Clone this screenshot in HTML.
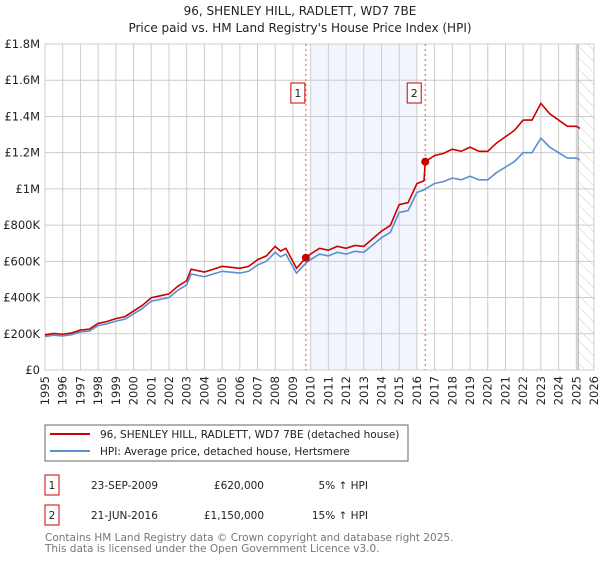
<!DOCTYPE html>
<html><head><meta charset="utf-8"><style>
body{margin:0;background:#fff;font-family:"DejaVu Sans","Liberation Sans",sans-serif;}
svg text{font-family:"DejaVu Sans","Liberation Sans",sans-serif;}
</style></head><body>
<svg width="600" height="560" viewBox="0 0 600 560" xmlns="http://www.w3.org/2000/svg">
<defs><pattern id="hatch" width="8" height="8" patternUnits="userSpaceOnUse" patternTransform="rotate(-45)"><line x1="0" y1="0" x2="0" y2="8" stroke="#ccc" stroke-width="1"/></pattern></defs>
<text x="300" y="15" text-anchor="middle" font-size="12" fill="#222">96, SHENLEY HILL, RADLETT, WD7 7BE</text>
<text x="300" y="32" text-anchor="middle" font-size="12" fill="#222">Price paid vs. HM Land Registry's House Price Index (HPI)</text>
<g id="plot"></g>
<g>
<rect x="45" y="425" width="363" height="36" fill="#fff" stroke="#666"/>
<line x1="50" y1="434" x2="90" y2="434" stroke="#cc0000" stroke-width="2"/>
<text x="100" y="438" font-size="10.5" fill="#222">96, SHENLEY HILL, RADLETT, WD7 7BE (detached house)</text>
<line x1="50" y1="451" x2="90" y2="451" stroke="#5b8fd4" stroke-width="2"/>
<text x="100" y="455" font-size="10.5" fill="#222">HPI: Average price, detached house, Hertsmere</text>
</g>
<g font-size="10.5" fill="#222">
<rect x="45" y="475" width="14" height="20" fill="#fff" stroke="#cc0000"/>
<text x="52" y="489" text-anchor="middle">1</text>
<text x="91" y="489">23-SEP-2009</text>
<text x="264" y="489" text-anchor="end">£620,000</text>
<text x="368" y="489" text-anchor="end">5% ↑ HPI</text>
<rect x="45" y="505" width="14" height="20" fill="#fff" stroke="#cc0000"/>
<text x="52" y="519" text-anchor="middle">2</text>
<text x="91" y="519">21-JUN-2016</text>
<text x="264" y="519" text-anchor="end">£1,150,000</text>
<text x="368" y="519" text-anchor="end">15% ↑ HPI</text>
</g>
<text x="45" y="541" font-size="10.5" fill="#777">Contains HM Land Registry data © Crown copyright and database right 2025.</text>
<text x="45" y="552" font-size="10.5" fill="#777">This data is licensed under the Open Government Licence v3.0.</text>
</svg>
<script>
const years=[1995,1995.5,1996,1996.5,1997,1997.5,1998,1998.5,1999,1999.5,2000,2000.5,2001,2001.5,2002,2002.5,2003,2003.25,2003.5,2004,2004.5,2005,2005.5,2006,2006.5,2007,2007.5,2008,2008.3,2008.6,2009,2009.2,2009.73,2010,2010.5,2011,2011.5,2012,2012.5,2013,2013.5,2014,2014.5,2015,2015.5,2016,2016.4,2016.47,2017,2017.5,2018,2018.5,2019,2019.5,2020,2020.5,2021,2021.5,2022,2022.5,2023,2023.5,2024,2024.5,2025,2025.2];
const hpi=[185,192,188,195,210,215,245,255,270,280,310,340,380,390,400,440,470,530,525,515,530,545,540,535,545,580,600,650,625,640,570,535,590,610,640,630,650,640,655,650,690,730,760,870,880,980,995,1000,1030,1040,1060,1050,1070,1050,1050,1090,1120,1150,1200,1200,1280,1230,1200,1170,1170,1160];
const saleYears=[2009.73,2016.47];
const salePrices=[620,1150];
const saleRatios=[1.05,1.15];
const yTicks=[0,200,400,600,800,1000,1200,1400,1600,1800];
const yTickLabels=["£0","£200K","£400K","£600K","£800K","£1M","£1.2M","£1.4M","£1.6M","£1.8M"];
const xTicks=[1995,1996,1997,1998,1999,2000,2001,2002,2003,2004,2005,2006,2007,2008,2009,2010,2011,2012,2013,2014,2015,2016,2017,2018,2019,2020,2021,2022,2023,2024,2025,2026];

const X0=45,X1=594,Y0=370,Y1=44;
const x=v=>X0+(v-1995)/(2026-1995)*(X1-X0);
const y=v=>Y0-v/1800*(Y0-Y1);
const NS="http://www.w3.org/2000/svg";
const g=document.getElementById('plot');
function mk(t,a,p){const e=document.createElementNS(NS,t);for(const k in a)e.setAttribute(k,a[k]);(p||g).appendChild(e);return e;}
let band=mk('rect',{x:x(2010),y:Y1,width:x(2016)-x(2010),height:Y0-Y1,fill:'#eef2fc',opacity:0.8});


let hat=mk('rect',{x:x(2025.1),y:Y1,width:X1-x(2025.1),height:Y0-Y1,fill:'url(#hatch)'});


yTicks.forEach((t,i)=>{
 mk('line',{x1:X0,x2:X1,y1:y(t),y2:y(t),stroke:'#ccc','stroke-width':1});
 let l=mk('text',{x:X0-5,y:y(t)+4,'text-anchor':'end','font-size':11.5,fill:'#222'});
 l.textContent=yTickLabels[i];
 
 
});
xTicks.forEach(t=>{
 mk('line',{x1:x(t),x2:x(t),y1:Y1,y2:Y0,stroke:'#ccc','stroke-width':1});
 let l=mk('text',{x:0,y:0,'text-anchor':'end','font-size':11.5,fill:'#222',transform:`translate(${x(t)+4},${Y0+6}) rotate(-90)`});
 l.textContent=t;
 
 
});
mk('line',{x1:x(2025.1),x2:x(2025.1),y1:Y1,y2:Y0,stroke:'#999','stroke-width':1});
mk('rect',{x:X0,y:Y1,width:X1-X0,height:Y0-Y1,fill:'none',stroke:'#ccc'});
saleYears.forEach((s,i)=>{
 let d=mk('line',{x1:x(s),x2:x(s),y1:Y1,y2:Y0,stroke:'#e05555','stroke-width':1,'stroke-dasharray':'2,3'});
 
 
 let r=mk('rect',{x:x(s)-20+(i?2:5),y:83,width:14,height:20,fill:'#fff',stroke:'#cc0000'});
 
 
 let tx=mk('text',{x:x(s)-13+(i?2:5),y:97,'text-anchor':'middle','font-size':11,fill:'#222'});
 tx.textContent=String(i+1);
});
const hp=hpi.map((v,i)=>[x(years[i]),y(v)]);
const red=hpi.map((v,i)=>[x(years[i]),y(v*(years[i]<saleYears[1]?saleRatios[0]:saleRatios[1]))]);
let pb=mk('polyline',{points:hp.map(p=>p.join(',')).join(' '),fill:'none',stroke:'#5b8fd4','stroke-width':1.6});


let pr=mk('polyline',{points:red.map(p=>p.join(',')).join(' '),fill:'none',stroke:'#cc0000','stroke-width':1.6});


saleYears.forEach((s,i)=>{
 let c=mk('circle',{cx:x(s),cy:y(salePrices[i]),r:4,fill:'#cc0000'});
 
 
});
</script>
</body></html>
